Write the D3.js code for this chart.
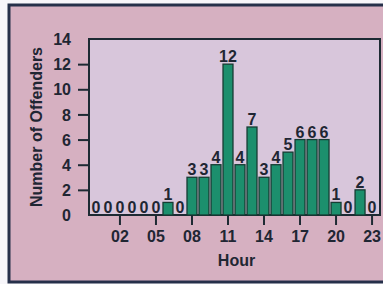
<!DOCTYPE html>
<html lang="en">
<head>
    <meta charset="UTF-8">
    <title>Offenders by hour</title>
    <style>
        body{ margin:0; background:#fff; }
        svg text{ font-family: "Liberation Sans", Arial, sans-serif; fill:#1f2633; font-weight:bold; }
    </style>
</head>
<body>
    <svg id="main-svg" width="383" height="284"></svg>

    <script src="https://cdn.jsdelivr.net/npm/d3@7"></script>
    <script>
        // hours 0..23 and offender counts
        const hours = d3.range(0, 24);
        const counts = [0,0,0,0,0,0,1,0,3,3,4,12,4,7,3,4,5,6,6,6,1,0,2,0];
        const yTicks = [0,2,4,6,8,10,12,14];
        const xTickHours = [2,5,8,11,14,17,20,23];

        const svg = d3.select('#main-svg');

        // outer panel
        svg.append('rect').attr('x',0).attr('y',0).attr('width',383).attr('height',284).style('fill','#f7f6fa');
        svg.append('rect').attr('x',9).attr('y',5).attr('width',390).attr('height',277)
            .style('fill','#d6b0c1').style('stroke','#26304a').style('stroke-width',3);

        const m = {left: 89, right: 380, top: 39, bottom: 215};

        const x = d3.scaleBand().domain(hours).range([m.left + 1, m.right - 2]).paddingInner(0.17).paddingOuter(0.08);
        const y = d3.scaleLinear().domain([0, 14]).range([m.bottom, m.top]);

        // plot area
        svg.append('rect')
            .attr('x', m.left).attr('y', m.top)
            .attr('width', m.right - m.left).attr('height', m.bottom - m.top)
            .style('fill','#d8c6db').style('stroke','#1d2a33').style('stroke-width',2);

        // bars
        svg.selectAll('.bar')
            .data(hours)
            .enter()
            .append('rect')
            .classed('bar', true)
            .attr('x', d => x(d))
            .attr('y', d => y(counts[d]))
            .attr('width', x.bandwidth())
            .attr('height', d => y(0) - y(counts[d]))
            .style('fill','#1c8f6d')
            .style('stroke','#163c33')
            .style('stroke-width',1.3);

        // value labels
        svg.selectAll('.val')
            .data(hours)
            .enter()
            .append('text')
            .attr('x', d => x(d) + x.bandwidth()/2)
            .attr('y', d => y(counts[d]) - 2)
            .attr('text-anchor','middle')
            .style('font-size','16px')
            .text(d => counts[d]);

        // y axis
        const yAxis = d3.axisLeft(y).tickValues(yTicks).tickSize(11).tickPadding(5).tickFormat(d3.format('d'));
        const gy = svg.append('g').attr('transform', `translate(${m.left},0)`).call(yAxis);
        gy.select('.domain').remove();
        gy.selectAll('line').style('stroke','#1d2a33').style('stroke-width',2)
            .filter(d => d === 0 || d === 14).remove();
        gy.selectAll('text').style('font-size','16px').attr('dy','0.35em').attr('x', -18);

        // x axis
        const xAxis = d3.axisBottom(x).tickValues(xTickHours).tickSize(10).tickPadding(6)
            .tickFormat(d => d3.format('02d')(d));
        const gx = svg.append('g').attr('transform', `translate(0,${m.bottom})`).call(xAxis);
        gx.select('.domain').remove();
        gx.selectAll('line').style('stroke','#1d2a33').style('stroke-width',2);
        gx.selectAll('text').style('font-size','16px');

        // titles
        svg.append('text')
            .attr('x', (m.left + m.right)/2 + 2).attr('y', 266)
            .attr('text-anchor','middle')
            .style('font-size','16px')
            .text('Hour');

        svg.append('text')
            .attr('transform', `translate(42,${(m.top + m.bottom)/2}) rotate(-90)`)
            .attr('text-anchor','middle')
            .style('font-size','16px')
            .text('Number of Offenders');
    </script>
</body>
</html>
